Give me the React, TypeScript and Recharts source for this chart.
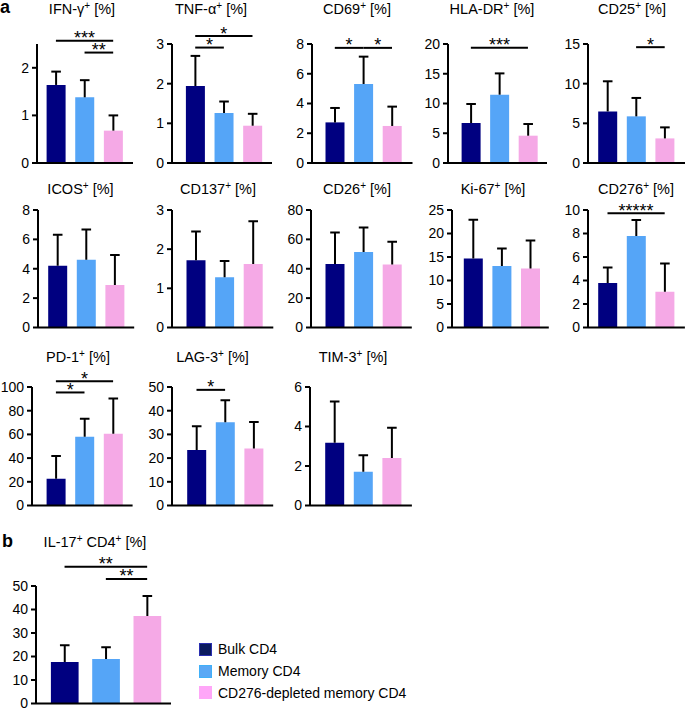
import React from 'react';
import { BarChart, Bar, XAxis, YAxis, Cell, ReferenceLine } from 'recharts';

const groups = ['Bulk CD4', 'Memory CD4', 'CD276-depleted memory CD4'];
const groupColors = ['#000080', '#55A5F7', '#F5A9E6'];
const legendColors = ['#0B1B5E', '#5AA8F5', '#FFA6F8'];
const legendBorders = ['#2A2FB0', '#40B0F8', '#FFA6F8'];

// mean and upper SD (bulk, memory, CD276-depleted)
const ifnMean = [1.64, 1.38, 0.68];
const ifnSd = [0.28, 0.36, 0.32];
const tnfMean = [1.94, 1.26, 0.94];
const tnfSd = [0.76, 0.29, 0.3];
const cd69Mean = [2.73, 5.31, 2.49];
const cd69Sd = [0.97, 1.84, 1.3];
const hlaMean = [6.72, 11.48, 4.59];
const hlaSd = [3.2, 3.58, 1.96];
const cd25Mean = [6.5, 5.88, 3.1];
const cd25Sd = [3.8, 2.32, 1.39];
const icosMean = [4.2, 4.61, 2.89];
const icosSd = [2.12, 2.07, 2.04];
const cd137Mean = [1.72, 1.28, 1.62];
const cd137Sd = [0.73, 0.42, 1.09];
const cd26Mean = [43.2, 51.4, 42.9];
const cd26Sd = [21.5, 16.7, 15.5];
const ki67Mean = [14.7, 13.1, 12.56];
const ki67Sd = [8.2, 3.7, 5.94];
const cd276Mean = [3.78, 7.79, 3.04];
const cd276Sd = [1.33, 1.36, 2.41];
const pd1Mean = [22.5, 58.1, 60.6];
const pd1Sd = [19.2, 15.2, 29.6];
const lag3Mean = [23.4, 35.1, 24.0];
const lag3Sd = [10.0, 9.3, 11.2];
const tim3Mean = [3.18, 1.71, 2.4];
const tim3Sd = [2.09, 0.83, 1.54];
const il17Mean = [17.7, 18.9, 37.2];
const il17Sd = [7.1, 5.0, 8.5];

// y ticks
const ifnTicks = [0, 1, 2];
const tnfTicks = [0, 1, 2, 3];
const cd69Ticks = [0, 2, 4, 6, 8];
const hlaTicks = [0, 5, 10, 15, 20];
const cd25Ticks = [0, 5, 10, 15];
const icosTicks = [0, 2, 4, 6, 8];
const cd137Ticks = [0, 1, 2, 3];
const cd26Ticks = [0, 20, 40, 60, 80];
const ki67Ticks = [0, 5, 10, 15, 20, 25];
const cd276Ticks = [0, 2, 4, 6, 8, 10];
const pd1Ticks = [0, 20, 40, 60, 80, 100];
const lag3Ticks = [0, 10, 20, 30, 40, 50];
const tim3Ticks = [0, 2, 4, 6];
const il17Ticks = [0, 10, 20, 30, 40, 50];

type Sig = { from: number; to: number; y: number; label: string };

// significance brackets (group index from/to, height in data units)
const ifnSig: Sig[] = [
  { from: 0, to: 2, y: 2.57, label: '***' },
  { from: 1, to: 2, y: 2.32, label: '**' },
];
const tnfSig: Sig[] = [
  { from: 0, to: 2, y: 3.2, label: '*' },
  { from: 0, to: 1, y: 2.91, label: '*' },
];
const cd69Sig: Sig[] = [
  { from: 0, to: 1, y: 7.74, label: '*' },
  { from: 1, to: 2, y: 7.74, label: '*' },
];
const hlaSig: Sig[] = [{ from: 0, to: 2, y: 19.36, label: '***' }];
const cd25Sig: Sig[] = [{ from: 1, to: 2, y: 14.6, label: '*' }];
const cd276Sig: Sig[] = [{ from: 0, to: 2, y: 9.73, label: '*****' }];
const pd1Sig: Sig[] = [
  { from: 0, to: 2, y: 104.9, label: '*' },
  { from: 0, to: 1, y: 95.4, label: '*' },
];
const lag3Sig: Sig[] = [{ from: 0, to: 1, y: 48.8, label: '*' }];
const il17Sig: Sig[] = [
  { from: 0, to: 2, y: 58.2, label: '**' },
  { from: 1, to: 2, y: 53.0, label: '**' },
];

interface PanelDef {
  id: string;
  title: string[];
  mean: number[];
  sd: number[];
  ticks: number[];
  max: number;
  sig: Sig[];
}

const panels: PanelDef[] = [
  { id: 'ifn', title: ['IFN-γ'], mean: ifnMean, sd: ifnSd, ticks: ifnTicks, max: 2.5, sig: ifnSig },
  { id: 'tnf', title: ['TNF-α'], mean: tnfMean, sd: tnfSd, ticks: tnfTicks, max: 3, sig: tnfSig },
  { id: 'cd69', title: ['CD69'], mean: cd69Mean, sd: cd69Sd, ticks: cd69Ticks, max: 8, sig: cd69Sig },
  { id: 'hla', title: ['HLA-DR'], mean: hlaMean, sd: hlaSd, ticks: hlaTicks, max: 20, sig: hlaSig },
  { id: 'cd25', title: ['CD25'], mean: cd25Mean, sd: cd25Sd, ticks: cd25Ticks, max: 15, sig: cd25Sig },
  { id: 'icos', title: ['ICOS'], mean: icosMean, sd: icosSd, ticks: icosTicks, max: 8, sig: [] },
  { id: 'cd137', title: ['CD137'], mean: cd137Mean, sd: cd137Sd, ticks: cd137Ticks, max: 3, sig: [] },
  { id: 'cd26', title: ['CD26'], mean: cd26Mean, sd: cd26Sd, ticks: cd26Ticks, max: 80, sig: [] },
  { id: 'ki67', title: ['Ki-67'], mean: ki67Mean, sd: ki67Sd, ticks: ki67Ticks, max: 25, sig: [] },
  { id: 'cd276', title: ['CD276'], mean: cd276Mean, sd: cd276Sd, ticks: cd276Ticks, max: 10, sig: cd276Sig },
  { id: 'pd1', title: ['PD-1'], mean: pd1Mean, sd: pd1Sd, ticks: pd1Ticks, max: 100, sig: pd1Sig },
  { id: 'lag3', title: ['LAG-3'], mean: lag3Mean, sd: lag3Sd, ticks: lag3Ticks, max: 50, sig: lag3Sig },
  { id: 'tim3', title: ['TIM-3'], mean: tim3Mean, sd: tim3Sd, ticks: tim3Ticks, max: 6, sig: [] },
  { id: 'il17', title: ['IL-17', 'CD4'], mean: il17Mean, sd: il17Sd, ticks: il17Ticks, max: 50, sig: il17Sig },
];

// where each panel sits on the page: y-axis x, plot top, plot height, x padding, plot width, title anchor
type Pos = { ax: number; top: number; h: number; pl: number; pr: number; w: number; tx: number; ty: number; bar: number };
const R1 = { top: 43.5, h: 119, ty: 14, bar: 19 };
const R2 = { top: 209.5, h: 117.5, ty: 194.3, bar: 19 };
const R3 = { top: 386.5, h: 118.5, ty: 362.3, bar: 19 };
const layout: Record<string, Pos> = {
  ifn: { ...R1, ax: 37.3, pl: 4.6, pr: 5.5, w: 96, tx: 82 },
  tnf: { ...R1, ax: 172, pl: 8.9, pr: 5.2, w: 100, tx: 211 },
  cd69: { ...R1, ax: 311.7, pl: 8.5, pr: 6.2, w: 100.5, tx: 357 },
  hla: { ...R1, ax: 448.3, pl: 8.6, pr: 4.8, w: 99, tx: 492 },
  cd25: { ...R1, ax: 588.3, pl: 5.2, pr: 6, w: 97, tx: 632 },
  icos: { ...R2, ax: 37.7, pl: 5.2, pr: 5.2, w: 96.2, tx: 80.5 },
  cd137: { ...R2, ax: 171.7, pl: 9.5, pr: 6, w: 101.3, tx: 218 },
  cd26: { ...R2, ax: 310.7, pl: 9.5, pr: 5.5, w: 100.8, tx: 357 },
  ki67: { ...R2, ax: 451.7, pl: 6.8, pr: 4.2, w: 96.8, tx: 493 },
  cd276: { ...R2, ax: 588.3, pl: 5.2, pr: 5.9, w: 96.9, tx: 636 },
  pd1: { ...R3, ax: 32.3, pl: 9.6, pr: 5.2, w: 100.6, tx: 78 },
  lag3: { ...R3, ax: 171.7, pl: 10.2, pr: 5.2, w: 101.2, tx: 212.5 },
  tim3: { ...R3, ax: 310, pl: 10.2, pr: 5.9, w: 101.9, tx: 353 },
  il17: { ax: 36, top: 586, h: 117.5, pl: 7.9, pr: 3.2, w: 135, tx: 95, ty: 547.3, bar: 27.7 },
};

const FONT = '"Liberation Sans", Arial, Helvetica, sans-serif';
const Y_W = 40;
const TOP_M = 40;
const BOT_M = 10;

// draws the upper error whisker on the stacked sd segment
const ErrShape = (props: any) => {
  const { x, y, width, height } = props;
  if (x == null || y == null) return null;
  const cx = x + width / 2;
  return (
    <g>
      <line x1={cx} x2={cx} y1={y + height} y2={y} stroke="#000" strokeWidth={2} />
      <line x1={cx - 4.8} x2={cx + 4.8} y1={y} y2={y} stroke="#000" strokeWidth={2} />
    </g>
  );
};

const Panel = ({ def, pos }: { def: PanelDef; pos: Pos }) => {
  const data = groups.map((g, i) => ({ group: g, mean: def.mean[i], sd: def.sd[i] }));
  return (
    <div style={{ position: 'absolute', left: pos.ax - Y_W, top: pos.top - TOP_M }}>
      <BarChart
        width={Y_W + pos.w + 2}
        height={TOP_M + pos.h + 2 + BOT_M}
        data={data}
        margin={{ top: TOP_M, right: 2, bottom: BOT_M, left: 0 }}
        barSize={pos.bar}
      >
        <XAxis
          dataKey="group"
          tick={false}
          tickLine={false}
          height={2}
          padding={{ left: pos.pl, right: pos.pr }}
          axisLine={{ stroke: '#000', strokeWidth: 2 }}
        />
        <YAxis
          width={Y_W}
          domain={[0, def.max]}
          ticks={def.ticks}
          interval={0}
          allowDataOverflow
          tickSize={5}
          tickMargin={3}
          axisLine={{ stroke: '#000', strokeWidth: 2 }}
          tickLine={{ stroke: '#000', strokeWidth: 2 }}
          tick={{ fill: '#000', fontSize: 14, fontFamily: FONT }}
        />
        <Bar dataKey="mean" stackId="s" isAnimationActive={false}>
          {data.map((d, i) => (
            <Cell key={d.group} fill={groupColors[i]} />
          ))}
        </Bar>
        <Bar dataKey="sd" stackId="s" isAnimationActive={false} shape={ErrShape} />
        {def.sig.map((s, i) => (
          <ReferenceLine
            key={i}
            segment={[
              { x: groups[s.from], y: s.y },
              { x: groups[s.to], y: s.y },
            ]}
            stroke="#000"
            strokeWidth={2}
            ifOverflow="visible"
            label={{ value: s.label, position: 'top', offset: -3.5, fontSize: 18, fill: '#000', fontFamily: FONT }}
          />
        ))}
      </BarChart>
    </div>
  );
};

const Title = ({ parts, x, y }: { parts: string[]; x: number; y: number }) => (
  <text x={x} y={y} textAnchor="middle" fontSize={14.5} fontFamily={FONT} fill="#000">
    {parts.map((p, i) => (
      <React.Fragment key={i}>
        <tspan dy={i === 0 ? 0 : 5}>{(i > 0 ? '\u00a0' : '') + p}</tspan>
        <tspan fontSize={10} dy={-5}>+</tspan>
      </React.Fragment>
    ))}
    <tspan dy={5}>{'\u00a0[%]'}</tspan>
  </text>
);

const App = () => {
  return (
    <div style={{ position: 'absolute', left: 0, top: 0, width: 685, height: 709, background: '#fff', fontFamily: FONT }}>
      {panels.map((p) => (
        <Panel key={p.id} def={p} pos={layout[p.id]} />
      ))}
      <svg width={685} height={709} style={{ position: 'absolute', left: 0, top: 0, pointerEvents: 'none' }}>
        <text x={0} y={13} fontSize={18} fontWeight="bold" fontFamily={FONT} fill="#000">a</text>
        <text x={2} y={547} fontSize={18} fontWeight="bold" fontFamily={FONT} fill="#000">b</text>
        {panels.map((p) => (
          <Title key={p.id} parts={p.title} x={layout[p.id].tx} y={layout[p.id].ty} />
        ))}
      </svg>
      <div style={{ position: 'absolute', left: 199, top: 638.5, fontSize: 14, color: '#000' }}>
        {groups.map((g, i) => (
          <div key={g} style={{ display: 'flex', alignItems: 'center', height: 21.7 }}>
            <span
              style={{
                width: 11,
                height: 11,
                background: legendColors[i],
                border: `1px solid ${legendBorders[i]}`,
                display: 'inline-block',
                marginRight: 6,
              }}
            />
            <span>{g}</span>
          </div>
        ))}
      </div>
    </div>
  );
};

export default App;
